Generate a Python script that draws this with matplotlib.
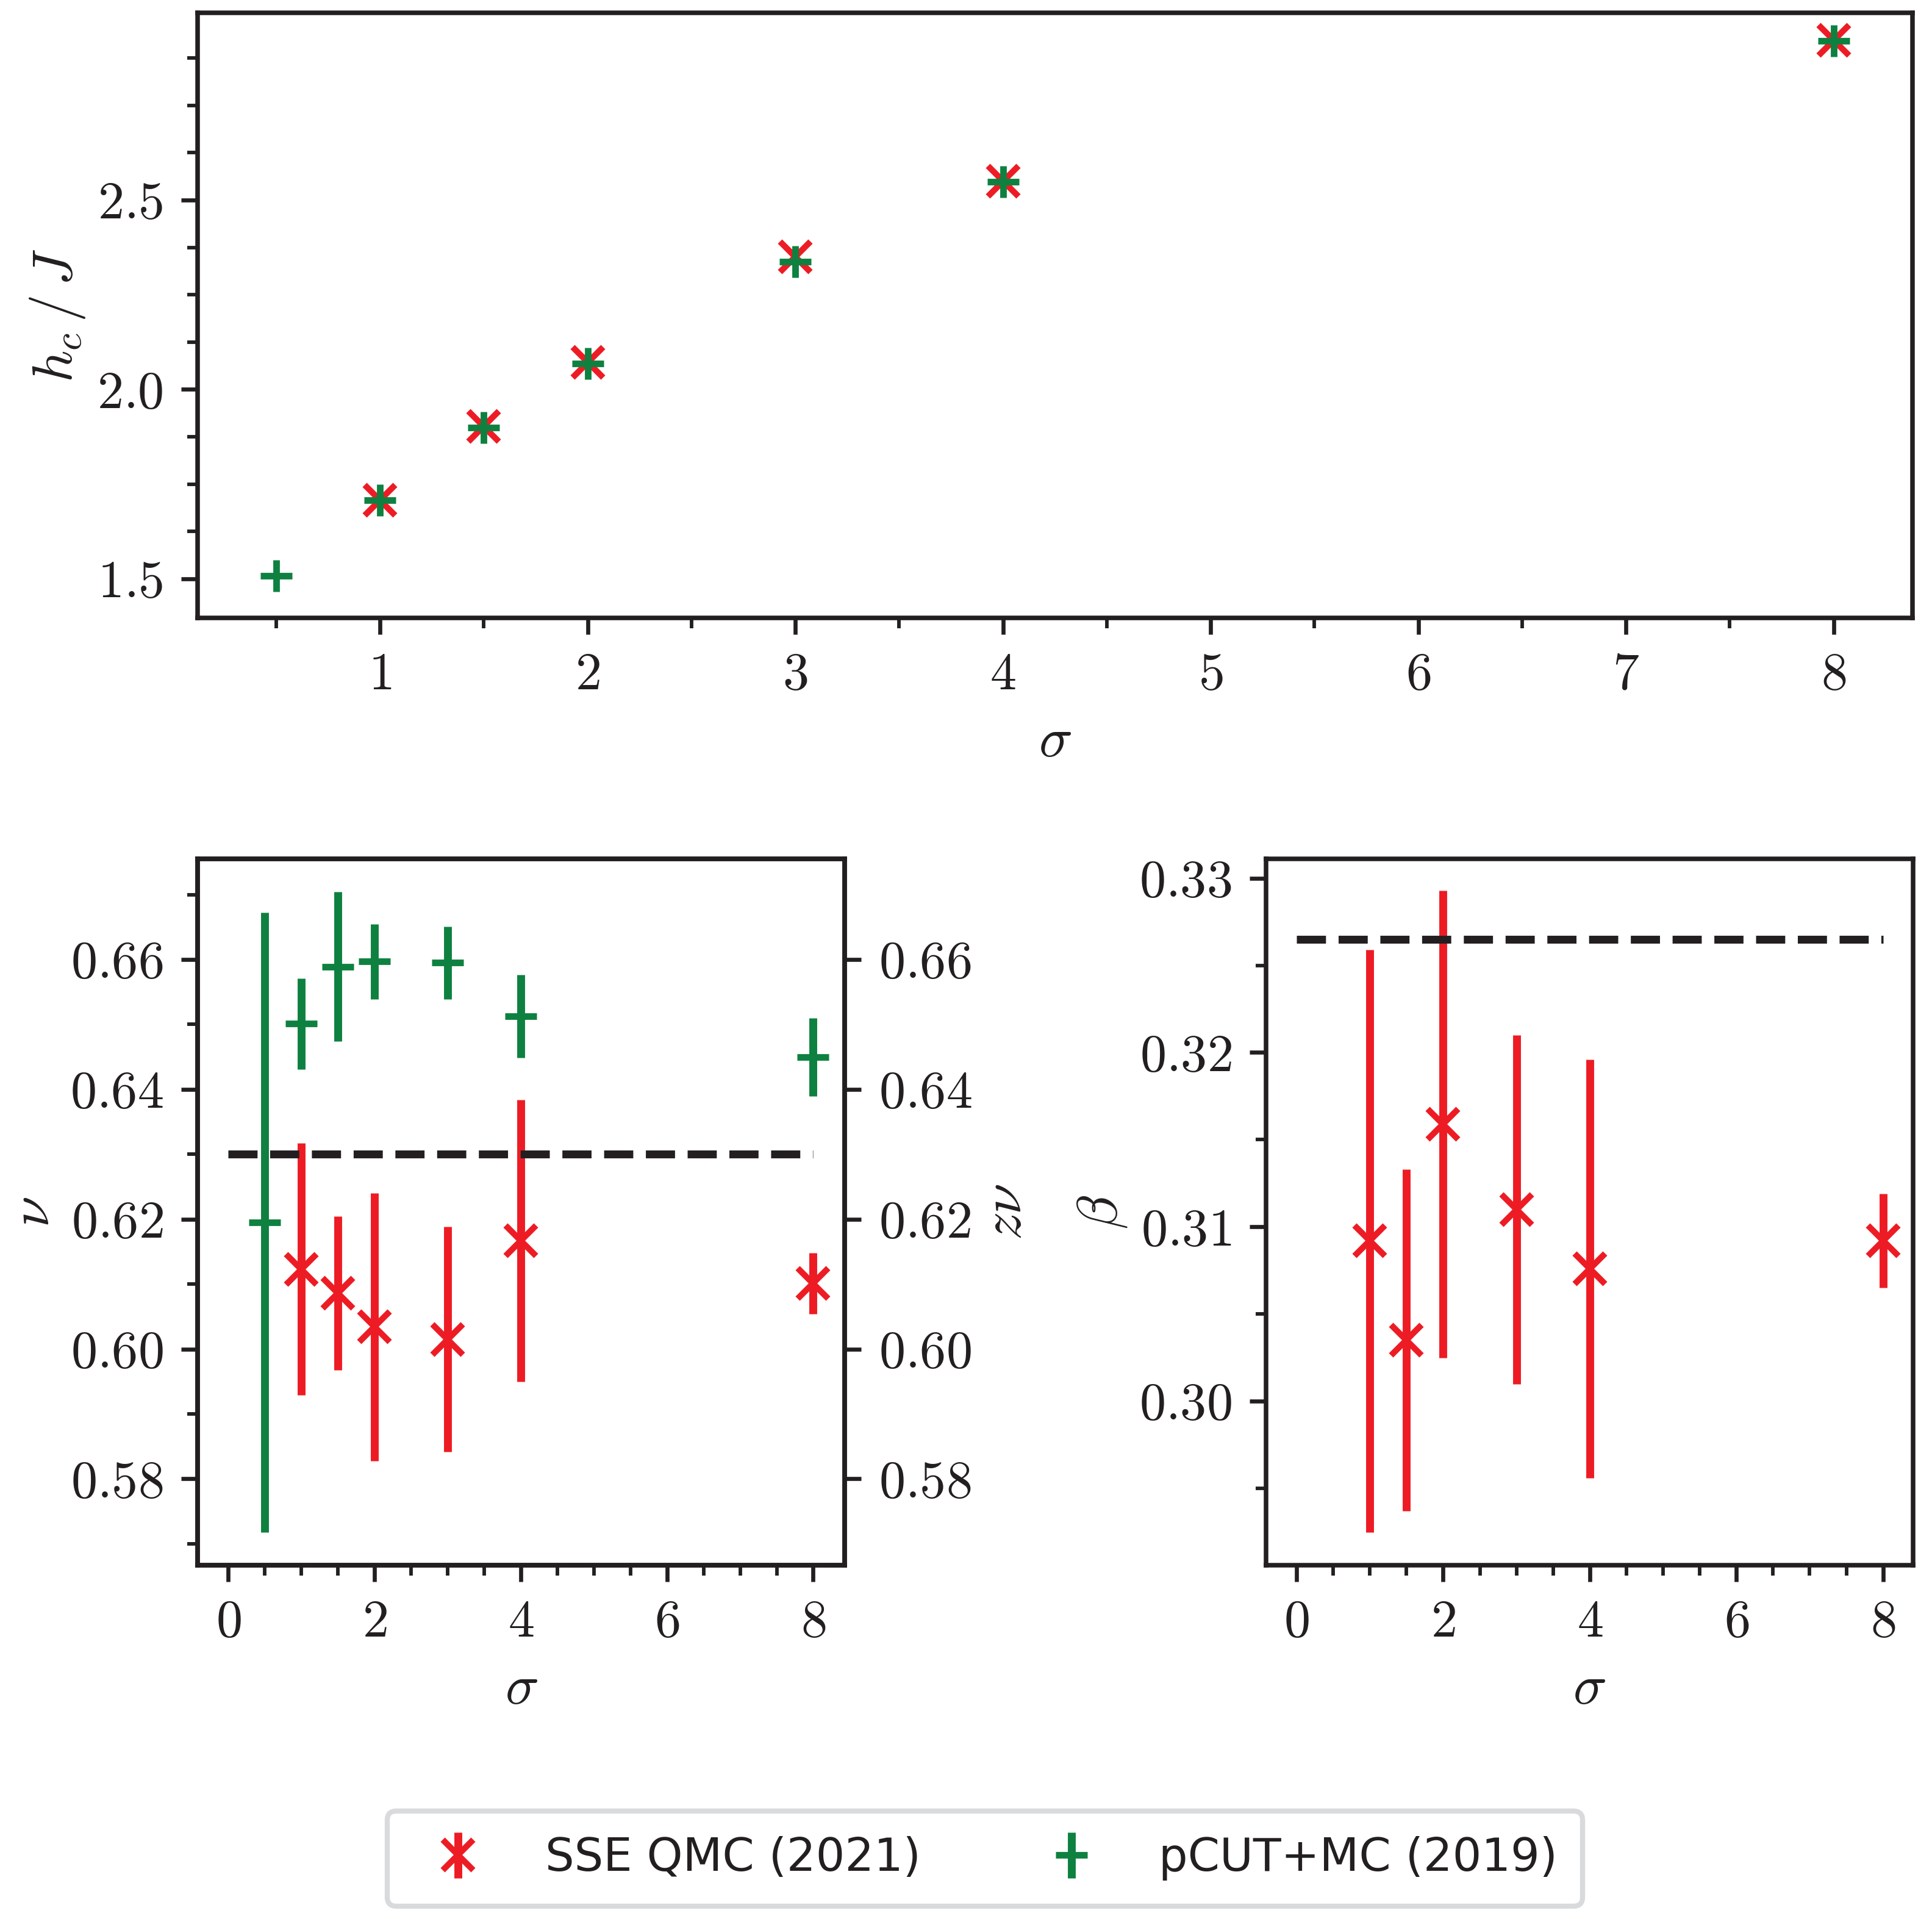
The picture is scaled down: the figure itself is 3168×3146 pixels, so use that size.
import matplotlib
matplotlib.use("Agg")
import matplotlib.pyplot as plt
from matplotlib.ticker import AutoMinorLocator, MultipleLocator

plt.rcParams['font.family'] = 'serif'
plt.rcParams['font.serif'] = ['cmr10']
plt.rcParams['mathtext.fontset'] = 'cm'
plt.rcParams['axes.formatter.use_mathtext'] = True

ink = '#231f20'
red = '#ed1c24'
green = '#0e8140'

# critical field h_c/J
sigma_qmc = [1, 1.5, 2, 3, 4, 8]
hc_qmc = [1.708, 1.902, 2.072, 2.35, 2.55, 2.922]
sigma_pcut = [0.5, 1, 1.5, 2, 3, 4, 8]
hc_pcut = [1.508, 1.708, 1.90, 2.068, 2.337, 2.548, 2.92]

# exponent nu (zν on right axis)
nu_qmc = [0.6123, 0.6086, 0.6034, 0.6015, 0.6167, 0.6101]
nu_qmc_err = [0.0194, 0.0118, 0.0206, 0.0173, 0.0217, 0.0047]
nu_pcut = [0.6195, 0.6501, 0.6589, 0.6597, 0.6595, 0.6513, 0.6450]
nu_pcut_err = [0.0477, 0.0070, 0.0115, 0.0058, 0.0056, 0.0064, 0.0060]

# exponent beta
beta_qmc = [0.3092, 0.3035, 0.3159, 0.3110, 0.3076, 0.3092]
beta_qmc_err = [0.0167, 0.0098, 0.0134, 0.0100, 0.0120, 0.0027]

nu_ising = 0.63
beta_ising = 0.3265

labels = ['SSE QMC (2021)', 'pCUT+MC (2019)']

fig = plt.figure(figsize=(10.56, 10.4867), dpi=300)
ax_top = fig.add_axes([0.1023, 0.678, 0.8876, 0.3153])
ax_nu = fig.add_axes([0.1023, 0.1844, 0.3349, 0.368])
ax_beta = fig.add_axes([0.6553, 0.1844, 0.3349, 0.368])

red_kw = dict(fmt='x', color=red, ms=12, mew=2.4, elinewidth=3.1, capsize=0)
green_kw = dict(fmt='+', color=green, ms=12.5, mew=2.6, elinewidth=3.1, capsize=0)


def style(ax):
    for s in ax.spines.values():
        s.set_linewidth(1.8)
        s.set_color(ink)
    ax.tick_params(which='major', direction='out', length=6.5, width=1.6,
                   pad=7, labelsize=20.7, colors=ink)
    ax.tick_params(which='minor', direction='out', length=4, width=1.4,
                   colors=ink)


# top panel
ax_top.errorbar(sigma_qmc, hc_qmc, **red_kw)
ax_top.errorbar(sigma_pcut, hc_pcut, **green_kw)
ax_top.set_xlim(0.122, 8.38)
ax_top.set_ylim(1.397, 2.994)
ax_top.xaxis.set_major_locator(MultipleLocator(1))
ax_top.xaxis.set_minor_locator(AutoMinorLocator(2))
ax_top.yaxis.set_major_locator(MultipleLocator(0.5))
ax_top.yaxis.set_minor_locator(AutoMinorLocator(4))
ax_top.set_xlabel(r'$\sigma$', fontsize=22, color=ink, labelpad=7)
ax_top.set_ylabel(r'$h_c\,/\,J$', fontsize=22, color=ink)
style(ax_top)

# nu panel
h_red = ax_nu.errorbar(sigma_qmc, nu_qmc, yerr=nu_qmc_err, **red_kw)
h_green = ax_nu.errorbar(sigma_pcut, nu_pcut, yerr=nu_pcut_err, **green_kw)
ax_nu.hlines(nu_ising, 0, 8, colors=ink, linestyles='--', lw=3.1, zorder=5)
ax_nu.set_xlim(-0.42, 8.43)
ax_nu.set_ylim(0.5667, 0.6755)
ax_nu.xaxis.set_major_locator(MultipleLocator(2))
ax_nu.xaxis.set_minor_locator(AutoMinorLocator(4))
ax_nu.yaxis.set_major_locator(MultipleLocator(0.02))
ax_nu.yaxis.set_minor_locator(AutoMinorLocator(2))
ax_nu.set_xlabel(r'$\sigma$', fontsize=22, color=ink, labelpad=7)
ax_nu.set_ylabel(r'$\nu$', fontsize=22, color=ink)
style(ax_nu)

ax_znu = ax_nu.twinx()
ax_znu.set_ylim(ax_nu.get_ylim())
ax_znu.yaxis.set_major_locator(MultipleLocator(0.02))
ax_znu.set_ylabel(r'$z\nu$', fontsize=22, color=ink)
style(ax_znu)

# beta panel
ax_beta.errorbar(sigma_qmc, beta_qmc, yerr=beta_qmc_err, **red_kw)
ax_beta.hlines(beta_ising, 0, 8, colors=ink, linestyles='--', lw=3.1, zorder=5)
ax_beta.set_xlim(-0.416, 8.41)
ax_beta.set_ylim(0.2906, 0.3311)
ax_beta.xaxis.set_major_locator(MultipleLocator(2))
ax_beta.xaxis.set_minor_locator(AutoMinorLocator(4))
ax_beta.yaxis.set_major_locator(MultipleLocator(0.01))
ax_beta.yaxis.set_minor_locator(AutoMinorLocator(2))
ax_beta.set_xlabel(r'$\sigma$', fontsize=22, color=ink, labelpad=7)
ax_beta.set_ylabel(r'$\beta$', fontsize=22, color=ink)
style(ax_beta)

leg = fig.legend([h_red, h_green], labels, loc='center',
                 bbox_to_anchor=(0.5098, 0.0315), ncol=2,
                 prop={'family': 'DejaVu Sans', 'size': 18},
                 frameon=True, fancybox=True, framealpha=1,
                 edgecolor='#d9dadc', columnspacing=2.3, borderpad=0.55,
                 handletextpad=0.9)
leg.get_frame().set_linewidth(2)
for t in leg.get_texts():
    t.set_color(ink)

fig.savefig('out.png', dpi=300)
